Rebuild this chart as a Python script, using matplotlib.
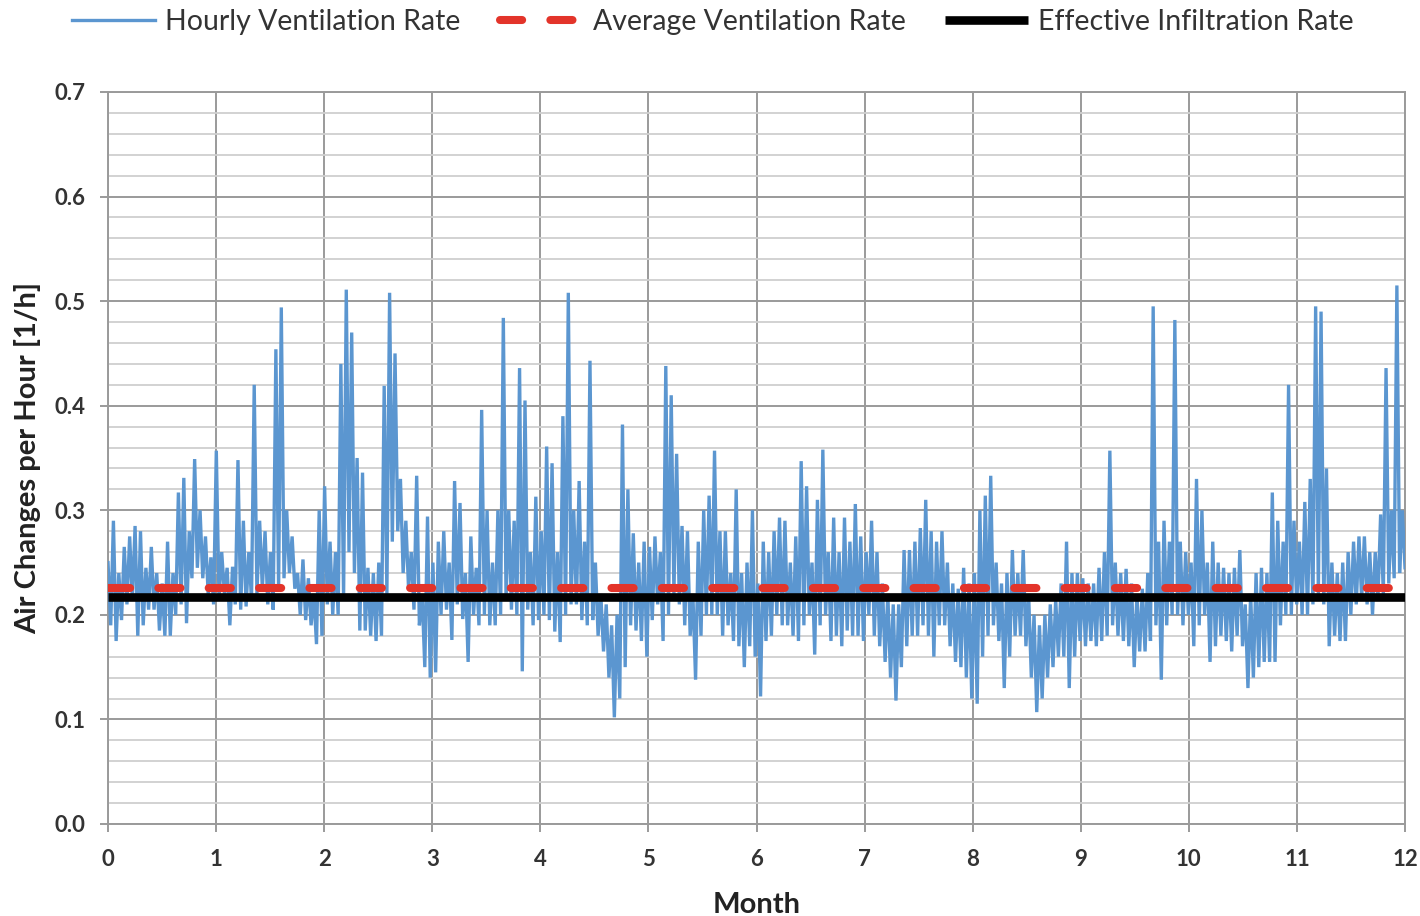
import numpy as np
import matplotlib
matplotlib.use("Agg")
import matplotlib.pyplot as plt
from matplotlib.ticker import MultipleLocator

# ---------------- data ----------------
month_ticks = list(range(0, 13))
avg_ventilation_rate = 0.226
effective_infiltration_rate = 0.217

# envelope of the hourly series, bins of 0.05 month (20 per month): upper / lower values
hourly_hi = [
    # month 0
    0.25, 0.29, 0.24, 0.265, 0.275, 0.285, 0.28, 0.245, 0.265, 0.24,
    0.23, 0.27, 0.24, 0.317, 0.331, 0.28, 0.349, 0.30, 0.275, 0.255,
    # month 1
    0.357, 0.26, 0.245, 0.246, 0.348, 0.29, 0.26, 0.42, 0.29, 0.28,
    0.26, 0.454, 0.494, 0.30, 0.275, 0.24, 0.253, 0.235, 0.22, 0.30,
    # month 2
    0.323, 0.27, 0.26, 0.44, 0.511, 0.47, 0.35, 0.336, 0.245, 0.24,
    0.25, 0.419, 0.508, 0.45, 0.33, 0.29, 0.26, 0.333, 0.22, 0.294,
    # month 3
    0.25, 0.27, 0.28, 0.25, 0.328, 0.307, 0.24, 0.275, 0.245, 0.396,
    0.30, 0.25, 0.30, 0.484, 0.30, 0.29, 0.436, 0.405, 0.26, 0.313,
    # month 4
    0.28, 0.361, 0.345, 0.26, 0.39, 0.508, 0.30, 0.328, 0.27, 0.443,
    0.25, 0.22, 0.21, 0.19, 0.20, 0.382, 0.32, 0.278, 0.25, 0.27,
    # month 5
    0.265, 0.275, 0.26, 0.438, 0.41, 0.354, 0.285, 0.28, 0.22, 0.27,
    0.30, 0.314, 0.357, 0.28, 0.28, 0.24, 0.32, 0.24, 0.25, 0.30,
    # month 6
    0.23, 0.27, 0.26, 0.28, 0.293, 0.29, 0.25, 0.275, 0.347, 0.323,
    0.25, 0.31, 0.358, 0.26, 0.293, 0.26, 0.293, 0.27, 0.306, 0.275,
    # month 7
    0.26, 0.29, 0.26, 0.23, 0.22, 0.21, 0.21, 0.262, 0.262, 0.27,
    0.283, 0.31, 0.28, 0.27, 0.28, 0.25, 0.23, 0.225, 0.245, 0.23,
    # month 8
    0.24, 0.30, 0.314, 0.333, 0.25, 0.23, 0.24, 0.262, 0.24, 0.262,
    0.22, 0.20, 0.19, 0.20, 0.21, 0.215, 0.23, 0.27, 0.24, 0.24,
    # month 9
    0.235, 0.23, 0.23, 0.245, 0.26, 0.357, 0.25, 0.24, 0.244, 0.23,
    0.22, 0.225, 0.24, 0.495, 0.27, 0.29, 0.27, 0.482, 0.27, 0.26,
    # month 10
    0.25, 0.33, 0.30, 0.25, 0.27, 0.25, 0.245, 0.24, 0.245, 0.262,
    0.21, 0.22, 0.24, 0.245, 0.24, 0.317, 0.29, 0.27, 0.42, 0.29,
    # month 11
    0.27, 0.308, 0.33, 0.495, 0.49, 0.34, 0.25, 0.24, 0.25, 0.26,
    0.27, 0.275, 0.275, 0.26, 0.26, 0.296, 0.436, 0.30, 0.515, 0.30,
]
hourly_lo = [
    # month 0
    0.19, 0.175, 0.195, 0.21, 0.215, 0.18, 0.19, 0.205, 0.205, 0.185,
    0.18, 0.18, 0.20, 0.21, 0.192, 0.235, 0.245, 0.235, 0.22, 0.21,
    # month 1
    0.215, 0.22, 0.19, 0.21, 0.205, 0.208, 0.215, 0.22, 0.225, 0.21,
    0.205, 0.225, 0.235, 0.24, 0.225, 0.20, 0.195, 0.19, 0.172, 0.18,
    # month 2
    0.21, 0.20, 0.20, 0.215, 0.26, 0.24, 0.185, 0.185, 0.18, 0.175,
    0.18, 0.22, 0.27, 0.28, 0.24, 0.225, 0.205, 0.19, 0.15, 0.14,
    # month 3
    0.145, 0.20, 0.205, 0.176, 0.21, 0.196, 0.155, 0.20, 0.19, 0.20,
    0.19, 0.19, 0.20, 0.215, 0.205, 0.20, 0.146, 0.205, 0.19, 0.195,
    # month 4
    0.20, 0.195, 0.184, 0.174, 0.20, 0.21, 0.21, 0.195, 0.19, 0.195,
    0.18, 0.165, 0.14, 0.102, 0.12, 0.15, 0.19, 0.185, 0.175, 0.16,
    # month 5
    0.195, 0.21, 0.175, 0.20, 0.22, 0.21, 0.19, 0.18, 0.138, 0.18,
    0.20, 0.20, 0.20, 0.18, 0.19, 0.175, 0.17, 0.15, 0.17, 0.16,
    # month 6
    0.122, 0.175, 0.18, 0.20, 0.19, 0.19, 0.18, 0.175, 0.19, 0.20,
    0.162, 0.19, 0.20, 0.175, 0.18, 0.17, 0.185, 0.18, 0.18, 0.175,
    # month 7
    0.20, 0.18, 0.17, 0.155, 0.14, 0.118, 0.15, 0.17, 0.18, 0.18,
    0.19, 0.18, 0.16, 0.19, 0.19, 0.17, 0.155, 0.15, 0.14, 0.12,
    # month 8
    0.115, 0.16, 0.18, 0.19, 0.175, 0.13, 0.16, 0.18, 0.18, 0.17,
    0.14, 0.107, 0.12, 0.14, 0.15, 0.16, 0.16, 0.13, 0.16, 0.175,
    # month 9
    0.17, 0.175, 0.17, 0.175, 0.18, 0.19, 0.18, 0.175, 0.17, 0.15,
    0.165, 0.165, 0.175, 0.19, 0.138, 0.19, 0.20, 0.20, 0.19, 0.20,
    # month 10
    0.17, 0.19, 0.20, 0.155, 0.17, 0.18, 0.175, 0.165, 0.18, 0.17,
    0.13, 0.14, 0.15, 0.155, 0.155, 0.155, 0.19, 0.20, 0.20, 0.21,
    # month 11
    0.20, 0.20, 0.21, 0.22, 0.21, 0.17, 0.18, 0.175, 0.175, 0.20,
    0.21, 0.215, 0.21, 0.20, 0.215, 0.22, 0.23, 0.235, 0.24, 0.245,
]

legend_labels = ["Hourly Ventilation Rate", "Average Ventilation Rate",
                 "Effective Infiltration Rate"]

# ---------------- figure ----------------
plt.rcParams["font.family"] = ["Lato", "DejaVu Sans"]

fig = plt.figure(figsize=(14.2, 9.16), dpi=100)
ax = fig.add_axes([108 / 1420, 92 / 916, 1297 / 1420, 732 / 916])

n = len(hourly_hi)
series = np.empty(2 * n)
series[0::2] = hourly_hi
series[1::2] = hourly_lo
t = np.linspace(month_ticks[0], month_ticks[-1], 2 * n)

blue = "#5B96D0"
ax.plot(t, series, color=blue, lw=2.4, label=legend_labels[0], zorder=3,
        solid_joinstyle="miter")
ax.plot([month_ticks[0], month_ticks[-1]], [avg_ventilation_rate] * 2,
        color="#E3342A", lw=5.8, dashes=(2.75, 3.5), dash_capstyle="round",
        label=legend_labels[1], zorder=4)
ax.plot([month_ticks[0], month_ticks[-1]], [effective_infiltration_rate] * 2,
        color="black", lw=6.2, solid_capstyle="butt",
        label=legend_labels[2], zorder=5)

ax.set_xlim(0, 12)
ax.set_ylim(0, 0.7)
ax.set_xticks(month_ticks)
ax.yaxis.set_major_locator(MultipleLocator(0.1))
ax.yaxis.set_minor_locator(MultipleLocator(0.02))
ax.yaxis.set_major_formatter(matplotlib.ticker.FormatStrFormatter("%.1f"))

ax.grid(which="major", axis="both", color="#9A9A9A", lw=1.4, zorder=1)
ax.grid(which="minor", axis="y", color="#CFCFCF", lw=1.3, zorder=1)
ax.set_axisbelow(True)

for s in ax.spines.values():
    s.set_color("#9A9A9A")
    s.set_linewidth(1.4)

ax.tick_params(axis="both", which="major", length=6, width=1.4, color="#9A9A9A",
               labelsize=16, labelcolor="#333333")
ax.tick_params(axis="y", which="major", pad=10)
ax.tick_params(axis="x", which="major", pad=12)
ax.tick_params(axis="y", which="minor", length=0)
for lab in ax.get_xticklabels() + ax.get_yticklabels():
    lab.set_fontweight("bold")

ax.set_xlabel("Month", fontsize=21, fontweight="bold", color="#222222", labelpad=16)
ax.set_ylabel("Air Changes per Hour [1/h]", fontsize=21, fontweight="bold",
              color="#222222", labelpad=10)

leg = fig.legend(loc="upper center", bbox_to_anchor=(0.502, 1.018), ncol=3,
                 frameon=False, fontsize=20.5, handlelength=2.9, handletextpad=0.35,
                 columnspacing=1.4)
for txt in leg.get_texts():
    txt.set_color("#333333")

fig.savefig("out.png", dpi=100)
